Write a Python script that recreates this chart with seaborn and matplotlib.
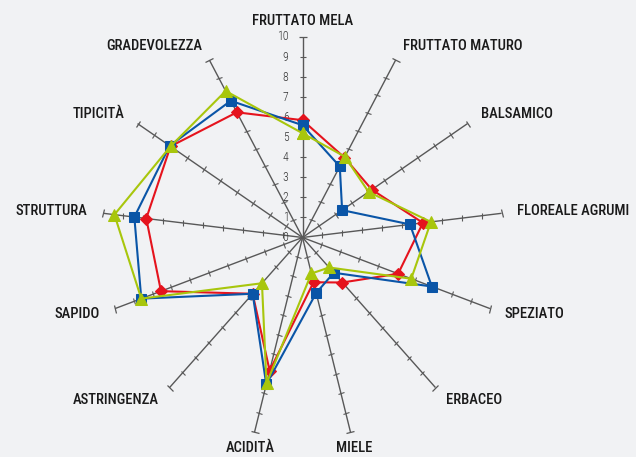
import numpy as np
import matplotlib
matplotlib.use("Agg")
import matplotlib.pyplot as plt
from matplotlib.markers import MarkerStyle
from matplotlib.transforms import Affine2D
import pandas as pd
import seaborn as sns

categories = ["FRUTTATO MELA", "FRUTTATO MATURO", "BALSAMICO", "FLOREALE AGRUMI",
              "SPEZIATO", "ERBACEO", "MIELE", "ACIDITÀ", "ASTRINGENZA", "SAPIDO",
              "STRUTTURA", "TIPICITÀ", "GRADEVOLEZZA"]
red_vals = [5.85, 4.5, 4.2, 6.05, 5.1, 3.0, 2.3, 6.85, 3.75, 7.55, 7.85, 8.0, 7.05]
blue_vals = [5.6, 4.0, 2.4, 5.4, 6.9, 2.35, 2.85, 7.55, 3.75, 8.6, 8.45, 8.05, 7.7]
green_vals = [5.2, 4.55, 4.0, 6.45, 5.8, 2.0, 1.85, 7.5, 3.05, 8.6, 9.45, 8.0, 8.25]
tick_labels = [str(i) for i in range(11)]

bg = "#f1f2f4"
sns.set_style("white", {"axes.facecolor": bg, "figure.facecolor": bg})
plt.rcParams['font.family'] = ['Roboto Condensed', 'DejaVu Sans']

fig = plt.figure(figsize=(6.36, 4.57), dpi=100)
ax = fig.add_axes([0.1604, 0.0416, 0.6305, 0.8775], projection="polar")
ax.set_theta_zero_location("N")
ax.set_theta_direction(-1)
for sp in ax.spines.values():
    sp.set_visible(False)
ax.patch.set_alpha(0)

n = len(categories)
angles = np.arange(n) * 2 * np.pi / n

# spokes with tick marks
spoke_col = "#585858"
for a in angles:
    ax.plot([a, a], [0, 10], color=spoke_col, lw=1.0, zorder=1)
    tick = MarkerStyle("_", transform=Affine2D().rotate_deg(-np.degrees(a)))
    ax.plot([a] * 9, np.arange(1, 10), ls="none", marker=tick, ms=4.5,
            mew=0.8, color=spoke_col, zorder=1, clip_on=False)
    ax.plot([a], [10], ls="none", marker=tick, ms=6, mew=0.9,
            color=spoke_col, zorder=1, clip_on=False)

# scale numbers on the vertical axis
for i, t in enumerate(tick_labels):
    ax.annotate(t, xy=(0, i), xytext=(-10, 0), textcoords="offset points",
                ha="right", va="center", fontsize=8.5, fontweight=300,
                color="#333333")

# category labels
for a, c in zip(angles, categories):
    s = np.sin(a)
    if s > 0.3:
        ha = "left"
    elif s < -0.3:
        ha = "right"
    else:
        ha = "center"
    ax.text(a, 10.8, c, ha=ha, va="center", fontsize=10.5, fontweight=500,
            color="#1a1a1a", clip_on=False)

series = [
    ("red", red_vals, "#e5131d", "D", 6),
    ("blue", blue_vals, "#0a55a7", "s", 7.5),
    ("green", green_vals, "#a8c60c", "^", 8.5),
]
theta = np.append(angles, 2 * np.pi)
for name, vals, col, mk, ms in series:
    df = pd.DataFrame({"theta": theta, "r": vals + vals[:1]})
    sns.lineplot(data=df, x="theta", y="r", sort=False, ax=ax, color=col,
                 lw=1.5, marker=mk, markersize=ms, markeredgecolor=col,
                 zorder=3, clip_on=False)

ax.set_xlabel("")
ax.set_ylabel("")
ax.grid(False)
ax.set_xticks([])
ax.set_yticks([])
ax.set_ylim(0, 10)

fig.savefig("out.png", dpi=100, facecolor=bg)
